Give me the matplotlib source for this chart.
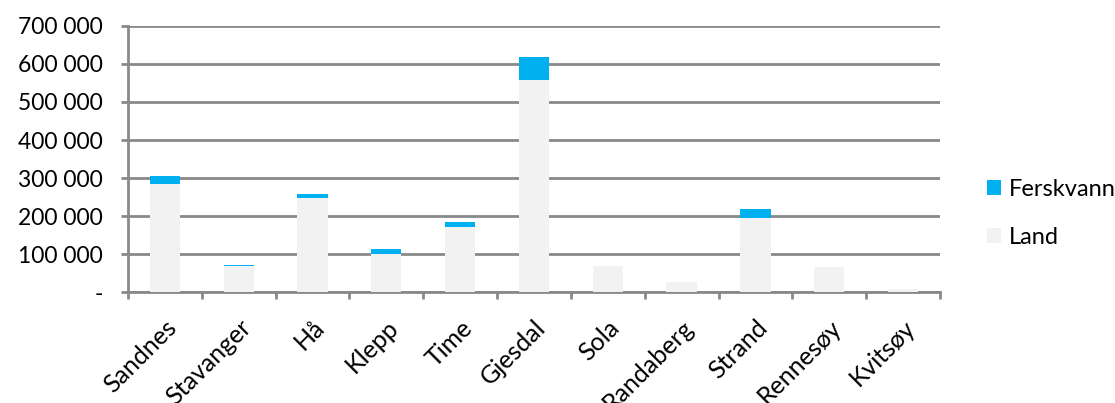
import matplotlib
matplotlib.use("Agg")
import matplotlib.pyplot as plt
import numpy as np
from matplotlib.ticker import FuncFormatter, FixedLocator

categories = ["Sandnes", "Stavanger", "Hå", "Klepp", "Time", "Gjesdal", "Sola",
              "Randaberg", "Strand", "Rennesøy", "Kvitsøy"]
land = [284000, 68500, 247000, 101000, 170000, 557000, 67500, 25700, 195500, 65500, 7800]
ferskvann = [21000, 2500, 11500, 12000, 13000, 60500, 500, 400, 22500, 500, 300]

c_fersk = "#00B0F0"
c_land = "#F2F2F2"
grid_c = "#898989"

plt.rcParams['font.family'] = ['Lato', 'DejaVu Sans']

fig = plt.figure(figsize=(11.15, 4.03), dpi=100)
ax = fig.add_axes([0.1148, 0.2754, 0.843 - 0.1148, 0.9355 - 0.2754])

x = np.arange(len(categories))
w = 0.41
b1 = ax.bar(x, land, width=w, color=c_land, label="Land", zorder=3)
b2 = ax.bar(x, ferskvann, width=w, bottom=land, color=c_fersk, label="Ferskvann", zorder=3)

ax.set_xlim(-0.5, len(categories) - 0.5)
ax.set_ylim(0, 700000)
ax.set_yticks(np.arange(0, 700001, 100000))

def fmt(v, pos):
    if v == 0:
        return "-"
    return f"{int(v):,}".replace(",", " ")
ax.yaxis.set_major_formatter(FuncFormatter(fmt))
ax.yaxis.grid(True, color=grid_c, linewidth=2, zorder=0)
ax.set_axisbelow(True)

ax.set_xticks(x)
ax.set_xticklabels(categories, rotation=45, ha='right', va='top', rotation_mode='anchor', fontsize=18)
ax.xaxis.set_minor_locator(FixedLocator(np.arange(-0.5, len(categories), 1.0)))
ax.tick_params(axis='x', which='major', length=0, pad=17)
ax.tick_params(axis='x', which='minor', length=5, width=2, color=grid_c, direction='out')
ax.tick_params(axis='y', length=5, width=2, color=grid_c, direction='out', labelsize=16.5, pad=13)

for s in ['top', 'right']:
    ax.spines[s].set_visible(False)
for s in ['left', 'bottom']:
    ax.spines[s].set_color(grid_c)
    ax.spines[s].set_linewidth(2)

handles = [b2, b1]
leg = fig.legend(handles, ["Ferskvann", "Land"], loc='center left',
                 bbox_to_anchor=(0.866, 0.47), frameon=False, fontsize=17,
                 handlelength=0.6, handleheight=0.6, handletextpad=0.35, labelspacing=1.15)

fig.savefig("out.png", dpi=100)
